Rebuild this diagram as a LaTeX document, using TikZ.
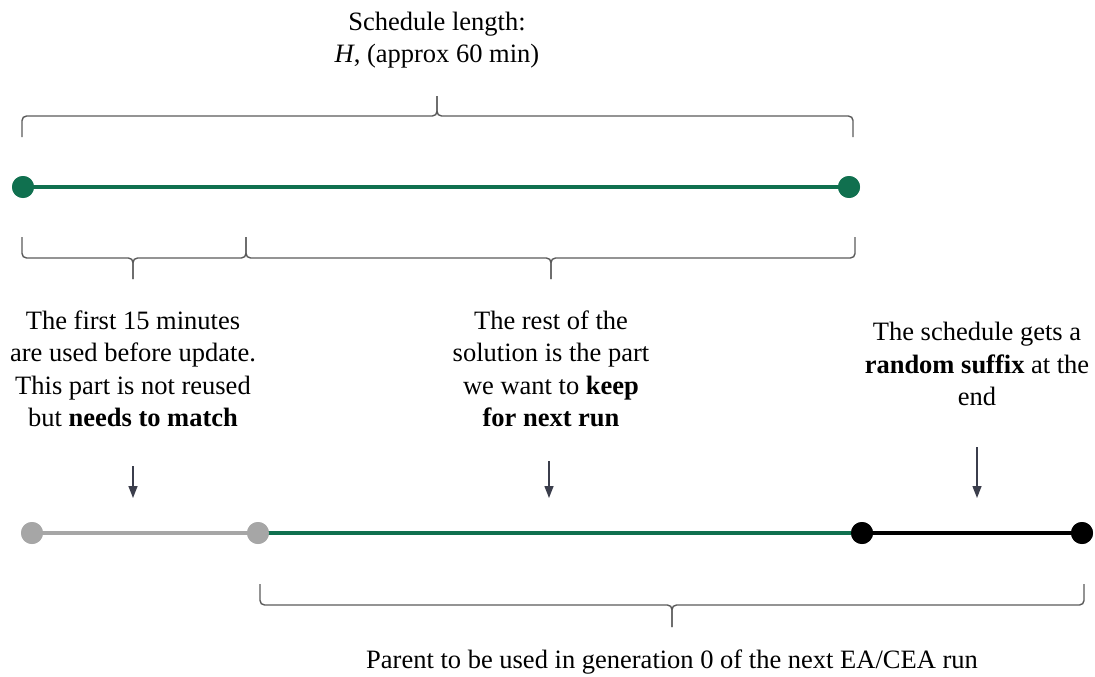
\documentclass[tikz,border=0pt]{standalone}
\usepackage{fontspec}
\setmainfont{Liberation Serif}
\usetikzlibrary{arrows.meta}
\definecolor{schedgreen}{HTML}{10704F}
\definecolor{partgray}{HTML}{A6A6A6}
\definecolor{bracegray}{HTML}{5A5A5A}
\definecolor{pointer}{HTML}{3B3E4C}
\tikzset{
  dot/.style={circle,inner sep=0pt,minimum size=22pt,fill=#1},
  seg/.style={line width=4.5pt,draw=#1},
  bracepen/.style={draw=bracegray,line width=1.4pt,rounded corners=4.5pt},
  pointerarrow/.style={draw=pointer,line width=1.4pt,-{Triangle[length=12pt,width=9pt]}},
  label/.style={align=center,inner sep=0pt,font=\fontsize{26.5}{32.5}\selectfont},
}
% bracket: left x, right x, tip x, line y, end y, tip y
\newcommand{\spanbrace}[6]{%
  \draw[bracepen] (#1,#5) -- (#1,#4) -- (#3,#4) -- (#3,#6);
  \draw[bracepen] (#2,#5) -- (#2,#4) -- (#3,#4) -- (#3,#6);
}
\begin{document}
\begin{tikzpicture}[x=1pt,y=-1pt]
\useasboundingbox (0,0) rectangle (1095,677);

% full schedule
\node[label] (title) at (437,40) {Schedule length:\\\textit{H}, (approx 60 min)};
\spanbrace{22}{853}{437}{116}{137}{96}
\node[dot=schedgreen] (h0) at (23,187) {};
\node[dot=schedgreen] (h1) at (849,187) {};
\draw[seg=schedgreen] (h0.center) -- (h1.center);
\node[dot=schedgreen] at (h0) {};
\node[dot=schedgreen] at (h1) {};

% split of the schedule
\spanbrace{22}{246}{133}{258}{237}{279}
\spanbrace{246}{855}{551}{258}{237}{279}

\node[label] (first) at (133,369) {The first 15 minutes\\are used before update.\\This part is not reused\\but \textbf{needs to match}};
\node[label] (rest) at (551,369) {The rest of the\\solution is the part\\we want to \textbf{keep}\\\textbf{for next run}};
\node[label] (suffix) at (977,364) {The schedule gets a\\\textbf{random suffix} at the\\end};

\coordinate (a1s) at (133,466);
\coordinate (a1e) at (133,498);
\coordinate (a2s) at (549,461);
\coordinate (a2e) at (549,498);
\coordinate (a3s) at (977,447);
\coordinate (a3e) at (977,498);
\draw[pointerarrow] (a1s) -- (a1e);
\draw[pointerarrow] (a2s) -- (a2e);
\draw[pointerarrow] (a3s) -- (a3e);

% next schedule
\node[dot=partgray] (g0) at (32,533) {};
\node[dot=partgray] (g1) at (258,533) {};
\node[dot=black] (b0) at (862,533) {};
\node[dot=black] (b1) at (1082,533) {};
\draw[seg=partgray] (g0.center) -- (g1.center);
\draw[seg=schedgreen] (g1.center) -- (b0.center);
\draw[seg=black] (b0.center) -- (b1.center);
\node[dot=partgray] at (g0) {};
\node[dot=partgray] at (g1) {};
\node[dot=black] at (b0) {};
\node[dot=black] at (b1) {};

\spanbrace{260}{1084}{672}{605}{584}{627}
\node[label] (parent) at (672,662) {Parent to be used in generation 0 of the next EA/CEA run};
\end{tikzpicture}
\end{document}
